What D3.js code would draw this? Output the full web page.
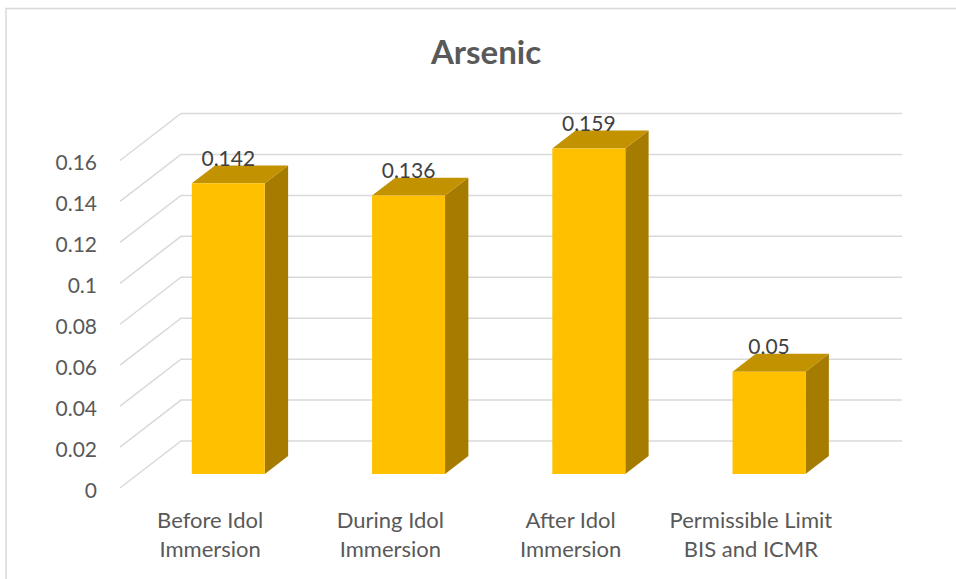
<!DOCTYPE html>
<html><head><meta charset="utf-8">
<script src="https://cdn.jsdelivr.net/npm/d3@7"></script>
<style>
html,body{margin:0;padding:0;background:#fff;}
svg{display:block;}
</style></head>
<body>
<script>
const categories = [["Before Idol","Immersion"],["During Idol","Immersion"],["After Idol","Immersion"],["Permissible Limit","BIS and ICMR"]];
const values = [0.142, 0.136, 0.159, 0.05];
const valueLabels = ["0.142","0.136","0.159","0.05"];
const yTicks = [0, 0.02, 0.04, 0.06, 0.08, 0.1, 0.12, 0.14, 0.16];
const yTickLabels = ["0","0.02","0.04","0.06","0.08","0.1","0.12","0.14","0.16"];
const title = "Arsenic";

const W = 956, H = 579;
const svg = d3.select("body").append("svg").attr("width", W).attr("height", H);
const font = "Lato, 'Open Sans', sans-serif";

// chart border
svg.append("rect").attr("x", 6).attr("y", 8.5).attr("width", W + 20).attr("height", H + 20)
  .attr("fill", "#fff").attr("stroke", "#d9d9d9").attr("stroke-width", 1.5);

// 3D projection parameters
const DX = 61, DY = -47;
const keys = categories.map((c, i) => "c" + i);
const x = d3.scaleBand().domain(keys).range([120, 841]).padding(0);
const y = d3.scaleLinear().domain([0, 0.16]).range([488, 160.5]);
const proj = (px, v, d) => [px + DX * d, y(v) + DY * d];

// gridlines: side wall slants + back wall horizontals
const grid = svg.append("g").attr("stroke", "#d9d9d9").attr("stroke-width", 1.5).attr("fill", "none");
yTicks.forEach(t => {
  const a = proj(120, t, 0), b = proj(120, t, 1), c = proj(841, t, 1);
  grid.append("path").attr("d", `M${a[0]},${a[1]}L${b[0]},${b[1]}L${c[0]},${c[1]}`);
});

// y tick labels
svg.append("g").selectAll("text").data(yTicks).join("text")
  .attr("x", 97).attr("y", d => y(d) + 2).attr("dy", "0.36em")
  .attr("text-anchor", "end").attr("font-family", font).attr("font-size", 21)
  .attr("fill", "#595959").text((d, i) => yTickLabels[i]);

// bars
const bw = x.bandwidth() * 0.405;
const d0 = 0.298, d1 = 0.68;
const bars = svg.append("g");
values.forEach((v, i) => {
  const cx = x(keys[i]) + x.bandwidth() / 2;
  const xl = cx - bw / 2, xr = cx + bw / 2;
  const pt = (px, val, d) => proj(px, val, d).join(",");
  // right side
  bars.append("path").attr("fill", "#a67c00")
    .attr("d", `M${pt(xr,0,d0)}L${pt(xr,0,d1)}L${pt(xr,v,d1)}L${pt(xr,v,d0)}Z`);
  // top
  bars.append("path").attr("fill", "#c29200")
    .attr("d", `M${pt(xl,v,d0)}L${pt(xr,v,d0)}L${pt(xr,v,d1)}L${pt(xl,v,d1)}Z`);
  // front
  bars.append("path").attr("fill", "#ffc000")
    .attr("d", `M${pt(xl,0,d0)}L${pt(xr,0,d0)}L${pt(xr,v,d0)}L${pt(xl,v,d0)}Z`);
  // data label
  const top = proj(cx, v, d0);
  svg.append("text").attr("x", top[0]).attr("y", top[1] - 17.5)
    .attr("text-anchor", "middle").attr("font-family", font).attr("font-size", 21)
    .attr("fill", "#404040").text(valueLabels[i]);
});

// category labels
categories.forEach((lines, i) => {
  const cx = x(keys[i]) + x.bandwidth() / 2;
  const t = svg.append("text").attr("text-anchor", "middle").attr("font-family", font)
    .attr("font-size", 22).attr("fill", "#595959");
  lines.forEach((ln, j) => t.append("tspan").attr("x", cx).attr("y", 528 + j * 29).text(ln));
});

// title
svg.append("text").attr("x", 486).attr("y", 64).attr("text-anchor", "middle")
  .attr("font-family", font).attr("font-weight", "bold").attr("font-size", 33)
  .attr("fill", "#595959").text(title);
</script>
</body></html>
